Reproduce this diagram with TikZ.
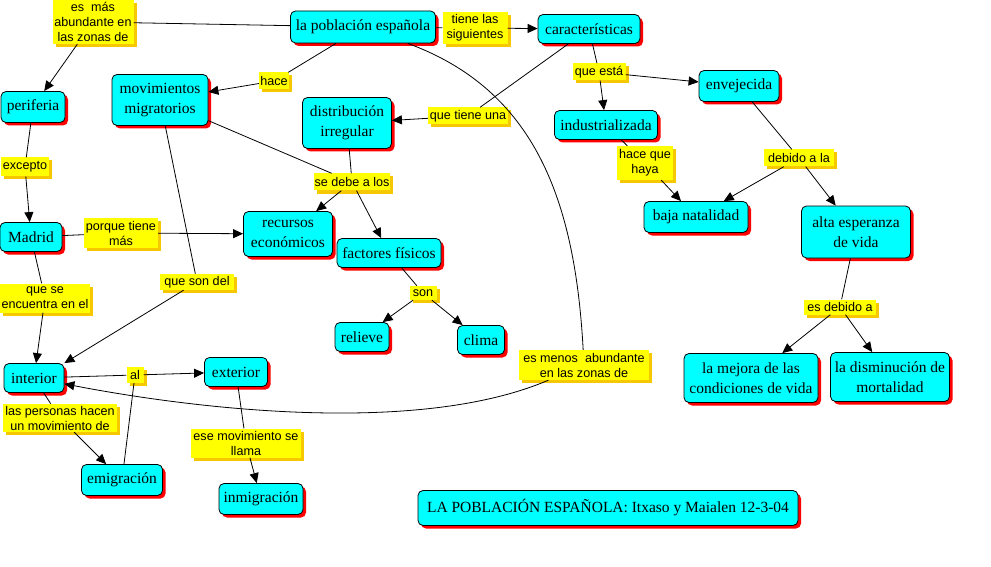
\documentclass[tikz,border=0pt]{standalone}
\usepackage{fontspec}
\setmainfont{Liberation Serif}
\newfontfamily\lblfont{Liberation Sans}
\usetikzlibrary{arrows.meta,shadows}
\definecolor{ccyan}{RGB}{0,255,255}
\definecolor{cred}{RGB}{255,0,0}
\definecolor{cyel}{RGB}{255,255,0}
\definecolor{cgold}{RGB}{245,200,0}
\begin{document}
\begin{tikzpicture}[x=1pt,y=-1pt,
  concept/.style={draw=black, line width=0.8pt, fill=ccyan, rounded corners=5pt, align=center, inner sep=1pt,
    font=\fontsize{15.5}{20}\selectfont,
    drop shadow={shadow xshift=3pt, shadow yshift=-3pt, fill=cred, opacity=1, draw=none}},
  lbl/.style={fill=cyel, align=center, inner sep=1pt, font=\lblfont\fontsize{12.6}{15}\selectfont,
    drop shadow={shadow xshift=3pt, shadow yshift=-3pt, fill=cgold, opacity=1, draw=none}},
  link/.style={line width=0.8pt, draw=black},
  arr/.style={link, -{Triangle[length=10pt,width=9pt]}}
]
\useasboundingbox (0,0) rectangle (991,567);
\fill[white] (0,0) rectangle (991,567);

% concepts
\node[concept, minimum width=145, minimum height=32] (pob) at (363,27) {la población española};
\node[concept, minimum width=102, minimum height=29] (car) at (589,29) {características};
\node[concept, minimum width=96, minimum height=51] (mov) at (160,100) {movimientos\\migratorios};
\node[concept, minimum width=64, minimum height=31] (per) at (33,107) {periferia};
\node[concept, minimum width=89, minimum height=51] (dis) at (347,123) {distribución\\irregular};
\node[concept, minimum width=103, minimum height=29] (ind) at (606,125) {industrializada};
\node[concept, minimum width=80, minimum height=31] (env) at (739,86) {envejecida};
\node[concept, minimum width=104, minimum height=31] (baja) at (696,217) {baja natalidad};
\node[concept, minimum width=109, minimum height=52] (alta) at (856,232) {alta esperanza\\de vida};
\node[concept, minimum width=62, minimum height=29] (mad) at (31,237) {Madrid};
\node[concept, minimum width=89, minimum height=45] (rec) at (288,234) {recursos\\económicos};
\node[concept, minimum width=104, minimum height=29] (fac) at (389,253) {factores físicos};
\node[concept, minimum width=54, minimum height=29] (rel) at (362,337) {relieve};
\node[concept, minimum width=47, minimum height=29] (cli) at (481,340) {clima};
\node[concept, minimum width=60, minimum height=29] (int) at (34,378) {interior};
\node[concept, minimum width=63, minimum height=29] (ext) at (236,372) {exterior};
\node[concept, minimum width=81, minimum height=31] (emi) at (122,480) {emigración};
\node[concept, minimum width=84, minimum height=31] (inm) at (261,499) {inmigración};
\node[concept, minimum width=134, minimum height=49] (mej) at (751,378) {la mejora de las\\condiciones de vida};
\node[concept, minimum width=119, minimum height=49] (dism) at (890,377) {la disminución de\\mortalidad};
\node[concept, minimum width=380, minimum height=35] (tit) at (608,508) {LA POBLACIÓN ESPAÑOLA: Itxaso y Maialen 12-3-04};

% labels
\node[lbl, minimum width=81, minimum height=44] (l1) at (93,22) {es\ \ más\\abundante en\\las zonas de};
\node[lbl, minimum width=30, minimum height=17] (l2) at (274,81) {hace};
\node[lbl, minimum width=65, minimum height=32] (l3) at (475,28) {tiene las\\siguientes};
\node[lbl, minimum width=53, minimum height=17] (l4) at (599,72) {que está};
\node[lbl, minimum width=80, minimum height=17] (l5) at (468,116) {que tiene una};
\node[lbl, minimum width=48, minimum height=19] (l6) at (25,167) {excepto};
\node[lbl, minimum width=75, minimum height=17] (l7) at (352,182) {se debe a los};
\node[lbl, minimum width=56, minimum height=34] (l8) at (645,163) {hace que\\haya};
\node[lbl, minimum width=70, minimum height=17] (l9) at (799,158) {debido a la};
\node[lbl, minimum width=74, minimum height=30] (l10) at (121,233) {porque tiene\\más};
\node[lbl, minimum width=74, minimum height=16] (l11) at (197,282) {que son del};
\node[lbl, minimum width=90, minimum height=29] (l12) at (45,298) {que se\\encuentra en el};
\node[lbl, minimum width=27, minimum height=14] (l13) at (423,293) {son};
\node[lbl, minimum width=72, minimum height=15] (l14) at (840,307) {es debido a};
\node[lbl, minimum width=130, minimum height=30] (l15) at (584,365) {es menos\ \ abundante\\en las zonas de};
\node[lbl, minimum width=17, minimum height=16] (l16) at (135,375) {al};
\node[lbl, minimum width=114, minimum height=28] (l17) at (60,418) {las personas hacen\\un movimiento de};
\node[lbl, minimum width=110, minimum height=29] (l18) at (246,443) {ese movimiento se\\llama};

% connectors
\draw[link] (pob) -- (l1);
\draw[arr] (l1) -- (per);
\draw[link] (pob) -- (l2);
\draw[arr] (l2) -- (mov);
\draw[link] (pob) -- (l3);
\draw[arr] (l3) -- (car);
\draw[link] (pob) .. controls (535,90) and (575,200) .. (l15);
\draw[arr] (l15) .. controls (420,435) and (200,410) .. (int);
\draw[link] (car) -- (l5);
\draw[arr] (l5) -- (dis);
\draw[link] (car) -- (l4);
\draw[arr] (l4) -- (ind);
\draw[arr] (l4) -- (env);
\draw[link] (ind) -- (l8);
\draw[arr] (l8) -- (baja);
\draw[link] (env) -- (l9);
\draw[arr] (l9) -- (baja);
\draw[arr] (l9) -- (alta);
\draw[link] (alta) -- (l14);
\draw[arr] (l14) -- (mej);
\draw[arr] (l14) -- (dism);
\draw[link] (mov) -- (l7);
\draw[link] (dis) -- (l7);
\draw[arr] (l7) -- (rec);
\draw[arr] (l7) -- (fac);
\draw[link] (mov) -- (l11);
\draw[arr] (l11) -- (int.north east);
\draw[link] (per) -- (l6);
\draw[arr] (l6) -- (mad);
\draw[link] (mad) -- (l10);
\draw[arr] (l10) -- (rec);
\draw[link] (mad) -- (l12);
\draw[arr] (l12) -- (int);
\draw[link] (fac) -- (l13);
\draw[arr] (l13) -- (rel);
\draw[arr] (l13) -- (cli);
\draw[link] (int) -- (l16);
\draw[arr] (l16) -- (ext);
\draw[link] (emi) -- (l16);
\draw[link] (int) -- (l17);
\draw[arr] (l17) -- (emi);
\draw[link] (ext) -- (l18);
\draw[arr] (l18) -- (inm);
\end{tikzpicture}
\end{document}
